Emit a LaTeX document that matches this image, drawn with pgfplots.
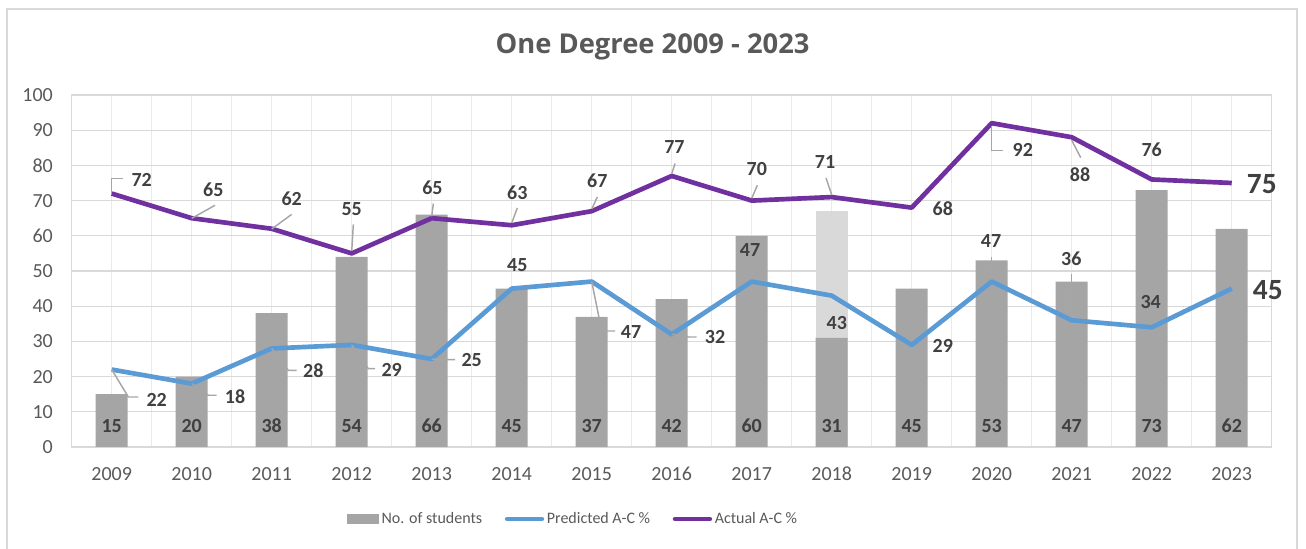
\documentclass[border=0pt]{standalone}
\usepackage{fontspec}
\setmainfont{Carlito}
\newfontfamily\titlefont{Open Sans}
\usepackage{pgfplots}
\usepackage{pgfplotstable}
\pgfplotsset{compat=1.18}
\definecolor{barc}{HTML}{A5A5A5}
\definecolor{barl}{HTML}{D9D9D9}
\definecolor{predc}{HTML}{5B9BD5}
\definecolor{actc}{HTML}{7030A0}
\definecolor{gridc}{HTML}{D9D9D9}
\definecolor{vgridc}{HTML}{EAEAEA}
\definecolor{txtc}{HTML}{595959}
\definecolor{lblc}{HTML}{404040}
\definecolor{leadc}{HTML}{A6A6A6}

\pgfplotstableread{
x n
0 15
1 20
2 38
3 54
4 66
5 45
6 37
7 42
8 60
9 31
10 45
11 53
12 47
13 73
14 62
}\bars

\pgfplotstableread{
x y dx dy fs
0 22 33.75 -22.5 15
1 18 32.5 -10 15
2 28 31.2 -16.4 15
3 29 30 -18.5 15
4 25 30 -0.4 15
5 45 4.2 18 15
6 47 29.5 -37.7 15
7 32 32.5 -2.3 15
8 47 -1.3 24 15
9 43 3.8 -20.9 15
10 29 23.3 -1 15
11 47 -0.5 30.3 15
12 36 -0.3 46.4 15
13 34 -0.8 19 15
14 45 27 -1.2 22
}\pred

\pgfplotstableread{
x y dx dy fs
0 72 22.5 10.1 15
1 65 16.2 21 15
2 62 15 22.3 15
3 55 0 33.2 15
4 65 0.5 22.8 15
5 63 4.2 24.6 15
6 67 4.2 22.8 15
7 77 2 21.9 15
8 70 3.8 23.6 15
9 71 -5 26 15
10 68 23.3 -0.6 15
11 92 23.3 -20.2 15
12 88 6.2 -27.8 15
13 76 0 22 15
14 75 22.5 -0.8 22
}\act

\begin{document}
\begin{tikzpicture}
\useasboundingbox (-53.8pt,-76.5pt) rectangle (925.7pt,335.25pt);
\draw[gridc, line width=1.2pt] (-48.5pt,-120pt) rectangle (918.75pt,328.5pt);
\node[font=\titlefont\bfseries\fontsize{20.5}{24}\selectfont, text=txtc] at (435.6pt,300pt) {One Degree 2009 - 2023};
\begin{axis}[
  at={(0pt,0pt)}, anchor=south west,
  scale only axis, width=900pt, height=264pt,
  xmin=-0.5, xmax=14.5, ymin=0, ymax=100,
  xtick={0,...,14},
  xticklabels={2009,2010,2011,2012,2013,2014,2015,2016,2017,2018,2019,2020,2021,2022,2023},
  minor xtick={-0.5,0,...,14.5},
  ytick={0,10,...,100},
  ymajorgrids, xminorgrids,
  major grid style={gridc, line width=0.9pt},
  minor grid style={vgridc, line width=0.9pt},
  major tick length=0pt, minor tick length=0pt,
  tick style={draw=none},
  axis line style={gridc, line width=0.9pt},
  /pgf/number format/assume math mode=true,
  ticklabel style={font=\fontsize{15}{18}\selectfont, text=txtc},
  yticklabel style={anchor=east, inner sep=0pt, xshift=-14pt},
  xticklabel style={anchor=center, inner sep=0pt, yshift=-20pt},
  legend columns=3,
  legend cell align=left,
  legend style={draw=none, fill=none, at={(0.418,-0.2045)}, anchor=center,
    font=\fontsize{12}{14}\selectfont, text=txtc,
    /tikz/every even column/.append style={column sep=15pt}},
]
\addplot[ybar, bar width=24pt, bar shift=0pt, fill=barl, draw=none, forget plot] coordinates {(9,67)};
\addplot[ybar, bar width=24pt, bar shift=0pt, fill=barc, draw=none,
  nodes near coords, point meta=y,
  visualization depends on=rawy \as \yv,
  every node near coord/.append style={anchor=center, yshift={(5.97-\yv)*2.64pt},
    font=\bfseries\fontsize{15}{18}\selectfont, text=lblc},
  legend image code/.code={\fill[barc] (0pt,-4pt) rectangle (24pt,4pt);}
] table[x=x, y=n] {\bars};
\addplot[predc, line width=3.5pt, line join=round, mark=none,
  nodes near coords, point meta=y,
  visualization depends on={\thisrow{dx} \as \dx},
  visualization depends on={\thisrow{dy} \as \dy},
  visualization depends on={\thisrow{fs} \as \fs},
  every node near coord/.append style={anchor=center, xshift=\dx pt, yshift=\dy pt,
    font=\bfseries\fontsize{\fs}{\fs}\selectfont, text=lblc},
  legend image code/.code={\draw[predc, line width=3.5pt, line cap=round] (0pt,0pt) -- (26pt,0pt);}
] table[x=x, y=y] {\pred};
\addplot[actc, line width=3.5pt, line join=round, mark=none,
  nodes near coords, point meta=y,
  visualization depends on={\thisrow{dx} \as \dx},
  visualization depends on={\thisrow{dy} \as \dy},
  visualization depends on={\thisrow{fs} \as \fs},
  every node near coord/.append style={anchor=center, xshift=\dx pt, yshift=\dy pt,
    font=\bfseries\fontsize{\fs}{\fs}\selectfont, text=lblc},
  legend image code/.code={\draw[actc, line width=3.5pt, line cap=round] (0pt,0pt) -- (26pt,0pt);}
] table[x=x, y=y] {\act};
\legend{No. of students, Predicted A-C \%, Actual A-C \%}
\end{axis}
% leader lines of the data labels
\begin{scope}[leadc, line width=1.1pt]
\draw (30pt,58.1pt) -- (42.45pt,37.5pt) -- (49.95pt,37.5pt);
\draw (90pt,47.5pt) -- (102.45pt,38.8pt) -- (108.75pt,38.8pt);
\draw (150pt,73.9pt) -- (162.45pt,57.5pt) -- (168.75pt,57.5pt);
\draw (210pt,76.5pt) -- (222.45pt,58.8pt) -- (227.5pt,58.8pt);
\draw (270pt,66pt) -- (282.45pt,65.55pt) -- (287.5pt,65.55pt);
\draw (390pt,124pt) -- (397.5pt,87pt) -- (407.5pt,87pt);
\draw (450pt,84.5pt) -- (462.45pt,82.5pt) -- (468.75pt,82.5pt);
\draw (690pt,130pt) -- (690pt,142.5pt);
\draw (750pt,98pt) -- (750pt,130pt);
\draw (30pt,189.9pt) -- (30pt,201.3pt) -- (38.7pt,201.3pt);
\draw (90pt,171.5pt) -- (107.5pt,181.3pt);
\draw (150pt,163.5pt) -- (165pt,174.5pt);
\draw (210pt,147pt) -- (211.2pt,167pt);
\draw (270pt,173pt) -- (271.2pt,182.6pt);
\draw (330pt,168pt) -- (334.2pt,179.3pt);
\draw (390pt,178.5pt) -- (394.2pt,187.5pt);
\draw (450pt,205pt) -- (452.5pt,212.6pt);
\draw (510pt,186.5pt) -- (514.2pt,196.3pt);
\draw (570pt,189pt) -- (565.7pt,201.8pt);
\draw (690pt,240.5pt) -- (690pt,222.5pt) -- (698.7pt,222.5pt);
\draw (750pt,230pt) -- (756.75pt,217pt);
\end{scope}
\end{tikzpicture}
\end{document}
